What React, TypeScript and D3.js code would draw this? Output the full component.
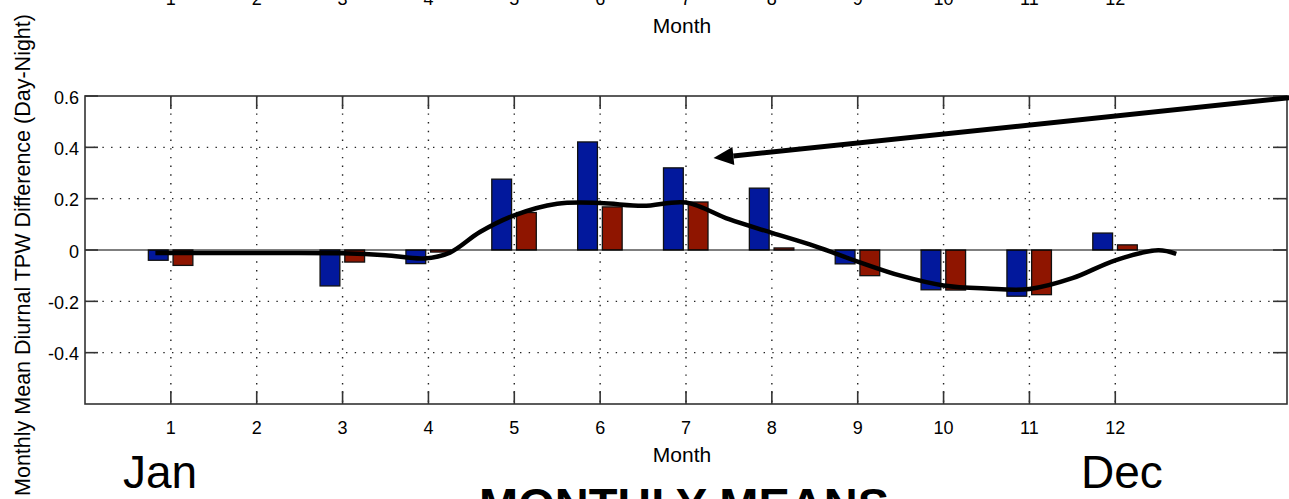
import * as React from "react"
import * as d3 from "d3"

// monthly mean diurnal TPW difference (day - night), two products
const months = [1, 2, 3, 4, 5, 6, 7, 8, 9, 10, 11, 12]
const blueValues = [-0.04, 0, -0.14, -0.053, 0.276, 0.421, 0.32, 0.241, -0.054, -0.155, -0.18, 0.066]
const redValues = [-0.06, 0, -0.047, -0.008, 0.146, 0.168, 0.187, 0.008, -0.1, -0.156, -0.174, 0.02]

// hand drawn smooth trend line (month, value)
const trendMonths = [0.82, 1, 2, 3, 3.5, 3.95, 4.25, 4.6, 5, 5.5, 6, 6.5, 7, 7.5, 8, 8.5, 9, 9.5, 10, 10.5, 11, 11.5, 12, 12.5, 12.71]
const trendValues = [-0.012, -0.012, -0.012, -0.013, -0.02, -0.033, -0.01, 0.07, 0.135, 0.18, 0.183, 0.172, 0.185, 0.12, 0.067, 0.015, -0.045, -0.1, -0.138, -0.15, -0.152, -0.11, -0.04, -0.001, -0.015]

const yTicks = [0.6, 0.4, 0.2, 0, -0.2, -0.4]
const yGrid = [0.4, 0.2, -0.2, -0.4]

// arrow annotation, data units: [month, value]
const arrowTip = [7.32, 0.358]
const arrowTail = [14.05, 0.594]

const font = "'Liberation Sans', Arial, Helvetica, sans-serif"
const blue = "#02189c"
const red = "#8f1500"

function App() {
    const width = 1289
    const height = 499
    const left = 85
    const right = 1287
    const top = 96
    const bottom = 404

    const x = d3.scaleLinear().domain([0, 14]).range([left, right])
    const y = d3.scaleLinear().domain([-0.6, 0.6]).range([bottom, top])
    const inner = d3.scaleBand().domain(["blue", "red"]).range([-22.5, 22]).paddingInner(0.2)

    const trend = d3
        .line()
        .x((d) => x(d[0]))
        .y((d) => y(d[1]))
        .curve(d3.curveCatmullRom.alpha(0.5))
    const trendPts = trendMonths.map((m, i) => [m, trendValues[i]])

    const series = [
        { key: "blue", color: blue, values: blueValues },
        { key: "red", color: red, values: redValues },
    ]

    // arrow geometry
    const tx = x(arrowTip[0]), ty = y(arrowTip[1])
    const ex = x(arrowTail[0]), ey = y(arrowTail[1])
    const ang = Math.atan2(ey - ty, ex - tx)
    const headLen = 20, headHalf = 9
    const bx = tx + headLen * Math.cos(ang), by = ty + headLen * Math.sin(ang)
    const p1 = [bx - headHalf * Math.sin(ang), by + headHalf * Math.cos(ang)]
    const p2 = [bx + headHalf * Math.sin(ang), by - headHalf * Math.cos(ang)]

    const axisColor = "#333"

    return (
        <svg width={width} height={height} style={{ position: "absolute", left: 0, top: 0, background: "#fff" }} fontFamily={font}>
            {/* cropped remains of the chart above */}
            {months.map((m) => (
                <text key={"tt" + m} x={x(m)} y={5} fontSize={18} textAnchor="middle">{m}</text>
            ))}
            <text x={682} y={33} fontSize={21} textAnchor="middle">Month</text>

            {/* grid */}
            {months.map((m) => (
                <line key={"vg" + m} x1={x(m)} x2={x(m)} y1={top} y2={bottom} stroke="#222" strokeWidth={1.4} strokeDasharray="1.4 7.3" />
            ))}
            {yGrid.map((v) => (
                <line key={"hg" + v} x1={left} x2={right} y1={y(v)} y2={y(v)} stroke="#222" strokeWidth={1.4} strokeDasharray="1.4 7.3" />
            ))}

            {/* bars */}
            {series.map((s) =>
                s.values.map((v, i) =>
                    v === 0 ? null : (
                        <rect
                            key={s.key + i}
                            x={x(months[i]) + inner(s.key)}
                            width={inner.bandwidth()}
                            y={Math.min(y(v), y(0))}
                            height={Math.abs(y(v) - y(0))}
                            fill={s.color}
                            stroke="#111"
                            strokeWidth={1.3}
                        />
                    )
                )
            )}

            {/* zero line */}
            <line x1={left} x2={right} y1={y(0)} y2={y(0)} stroke="#000" strokeWidth={1.2} />

            {/* trend */}
            <path d={trend(trendPts)} fill="none" stroke="#000" strokeWidth={4.5} strokeLinecap="butt" />

            {/* axes box and ticks */}
            <rect x={left} y={top} width={right - left} height={bottom - top} fill="none" stroke={axisColor} strokeWidth={1.6} />
            {months.map((m) => (
                <g key={"xt" + m}>
                    <line x1={x(m)} x2={x(m)} y1={top} y2={top + 13} stroke={axisColor} strokeWidth={1.6} />
                    <line x1={x(m)} x2={x(m)} y1={bottom} y2={bottom - 13} stroke={axisColor} strokeWidth={1.6} />
                    <text x={x(m)} y={433.5} fontSize={18} textAnchor="middle">{m}</text>
                </g>
            ))}
            {yTicks.map((v) => (
                <g key={"yt" + v}>
                    <line x1={left} x2={left + 13} y1={y(v)} y2={y(v)} stroke={axisColor} strokeWidth={1.6} />
                    <line x1={right} x2={right - 14} y1={y(v)} y2={y(v)} stroke={axisColor} strokeWidth={1.6} />
                    <text x={79} y={y(v) + 7.5} fontSize={18} textAnchor="end">{v}</text>
                </g>
            ))}

            {/* arrow */}
            <line x1={bx} y1={by} x2={ex} y2={ey} stroke="#000" strokeWidth={5} />
            <polygon points={`${tx},${ty} ${p1[0]},${p1[1]} ${p2[0]},${p2[1]}`} fill="#000" />

            {/* labels */}
            <text x={682} y={461.5} fontSize={21} textAnchor="middle">Month</text>
            <text transform="translate(30,255) rotate(-90)" fontSize={21.5} textAnchor="middle">
                Monthly Mean Diurnal TPW Difference (Day-Night)
            </text>
            <text x={123} y={488} fontSize={46}>Jan</text>
            <text x={1081} y={488} fontSize={46}>Dec</text>
            <text x={684} y={521} fontSize={47} fontWeight="bold" textAnchor="middle">MONTHLY MEANS</text>
        </svg>
    )
}

export default App
